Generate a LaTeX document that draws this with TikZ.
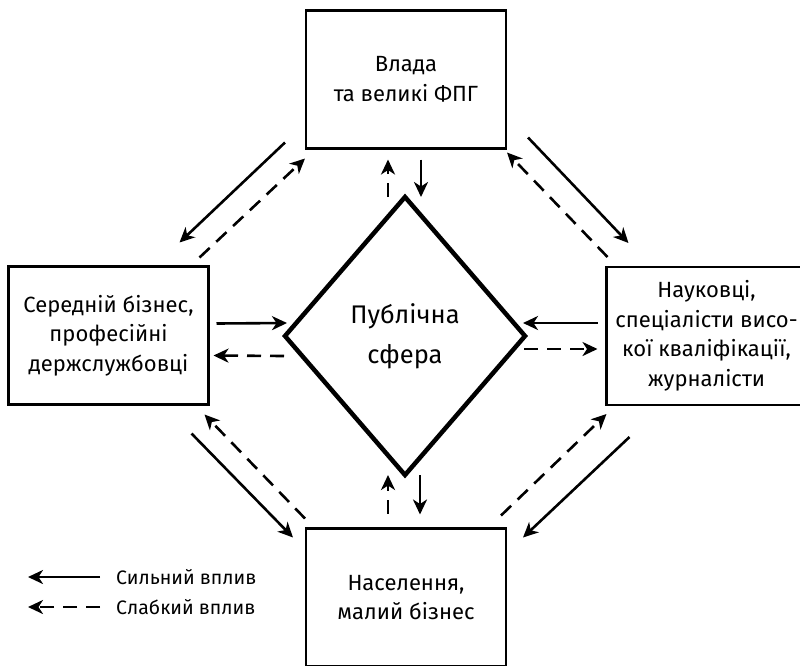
\documentclass[tikz,border=0pt]{standalone}
\usepackage{fontspec}
\setmainfont{Fira Sans}
\usetikzlibrary{shapes.geometric, arrows.meta}

\begin{document}
\begin{tikzpicture}[x=1pt, y=-1pt,
    box/.style={draw, line width=2.6pt, rectangle, minimum width=200pt,
        minimum height=138pt, align=center, inner sep=0pt, outer sep=0pt,
        font=\fontsize{22}{29.5}\selectfont},
    sphere/.style={draw, line width=4.5pt, diamond, minimum width=240pt,
        minimum height=278pt, align=center, inner sep=0pt, outer sep=0pt,
        font=\fontsize{25.5}{40}\selectfont},
    strong/.style={draw, line width=2.6pt, -{Stealth[length=15pt, width=14pt, inset=4.5pt]}},
    weak/.style={strong, dash pattern=on 14pt off 9pt}]
\useasboundingbox (0,0) rectangle (800,665);

\node[box] (vlada) at (406,79.5) {Влада\\та великі ФПГ};
\node[box] (biz) at (108.5,335.5) {Середній бізнес,\\професійні\\держслужбовці};
\node[box] (nauk) at (706.5,336) {Науковці,\\спеціалісти висо-\\кої кваліфікації,\\журналісти};
\node[box] (nas) at (406,597.5) {Населення,\\малий бізнес};
\node[sphere] (pub) at (405,336) {Публічна\\сфера};

\node[anchor=west, inner sep=0pt, font=\fontsize{19.5}{24}\selectfont] (lsil) at (116,577) {Сильний вплив};
\node[anchor=west, inner sep=0pt, font=\fontsize{19.5}{24}\selectfont] (lslab) at (116,607) {Слабкий вплив};
\coordinate (esil) at (28,577);
\coordinate (eslab) at (28,607);

\draw[strong] ([xshift=15pt, yshift=-11pt]vlada.south) -- ([xshift=16pt]pub.north);
\draw[weak] ([xshift=-17pt]pub.north) -- ([xshift=-18pt, yshift=-11pt]vlada.south);
\draw[weak] ([xshift=-18pt, yshift=15pt]nas.north) -- ([xshift=-17pt]pub.south);
\draw[strong] ([xshift=15pt]pub.south) -- ([xshift=14pt, yshift=14pt]nas.north);
\draw[strong] ([xshift=8pt, yshift=12pt]biz.east) -- ([xshift=2pt, yshift=13pt]pub.west);
\draw[weak] ([xshift=-1pt, yshift=-20pt]pub.west) -- ([xshift=5pt, yshift=-20pt]biz.east);
\draw[strong] ([xshift=-9pt, yshift=13pt]nauk.west) -- ([xshift=-2pt, yshift=13pt]pub.east);
\draw[weak] ([xshift=-1pt, yshift=-13pt]pub.east) -- ([xshift=-9pt, yshift=-13pt]nauk.west);
\draw[strong] ([xshift=-21pt, yshift=6pt]vlada.south west) -- ([xshift=-29pt, yshift=24pt]biz.north east);
\draw[weak] ([xshift=-9pt, yshift=9pt]biz.north east) -- ([xshift=-1pt, yshift=-10pt]vlada.south west);
\draw[strong] ([xshift=22pt, yshift=11pt]vlada.south east) -- ([xshift=22pt, yshift=24pt]nauk.north west);
\draw[weak] ([xshift=1pt, yshift=10pt]nauk.north west) -- ([xshift=1pt, yshift=-4pt]vlada.south east);
\draw[weak] ([xshift=-1pt, yshift=10pt]nas.north west) -- ([xshift=-4pt, yshift=-10pt]biz.south east);
\draw[strong] ([xshift=-17pt, yshift=-29pt]biz.south east) -- ([xshift=-13pt, yshift=-9pt]nas.north west);
\draw[weak] ([xshift=-5pt, yshift=13pt]nas.north east) -- ([yshift=-9pt]nauk.south west);
\draw[strong] ([xshift=23pt, yshift=-32pt]nauk.south west) -- ([xshift=17pt, yshift=-9pt]nas.north east);
\draw[strong] ([xshift=-16pt]lsil.west) -- (esil);
\draw[weak] ([xshift=-16pt]lslab.west) -- (eslab);
\end{tikzpicture}
\end{document}
